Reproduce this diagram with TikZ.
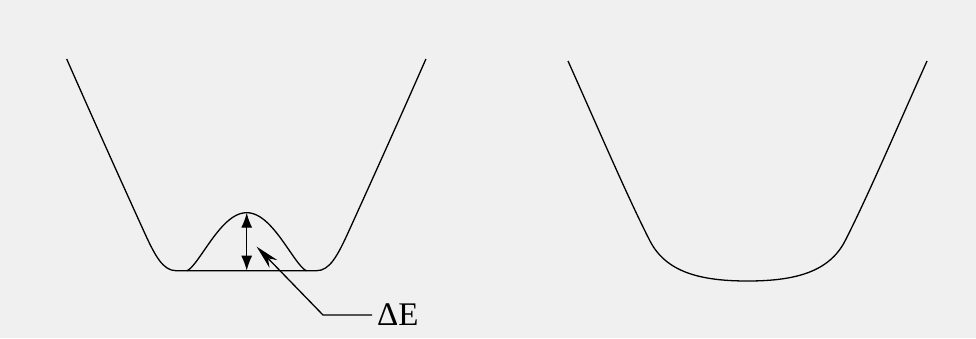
\documentclass[tikz,border=0pt]{standalone}
\usepackage{fontspec}
\setmainfont{Liberation Serif}
\usetikzlibrary{arrows.meta}
\definecolor{bgcol}{RGB}{240,240,240}
\tikzset{
  curve/.style={line width=1.3pt, black, line join=round},
  dbl/.style={line width=1.3pt, {Latex[length=15pt,width=11pt]}-{Latex[length=15pt,width=11pt]}},
  leader/.style={line width=1.3pt, -{Stealth[length=24pt,width=11pt]}},
  lbl/.style={font=\fontsize{33}{33}\selectfont, inner xsep=5pt, inner ysep=0pt, anchor=west}
}
\begin{document}
\begin{tikzpicture}[x=1pt,y=-1pt]
  \fill[bgcol] (0,0) rectangle (976,338);
  \useasboundingbox (0,0) rectangle (976,338);
  % double well
  \draw[curve] (66.7,59) .. controls (97,128) and (131,203) .. (143.3,230)
     .. controls (155,256) and (163,270.7) .. (176,270.7) -- (316.6,270.7)
     .. controls (329.6,270.7) and (337.6,256) .. (349.3,230)
     .. controls (361.6,203) and (395.6,128) .. (425.9,59);
  % barrier bump
  \draw[curve] plot[domain=-60:60, samples=81]
     ({246.7+\x}, {270.7-58*(1-(\x/60)^2)*sqrt(max(0,1-(\x/60)^2))});
  % single well
  \draw[curve] (568,61) .. controls (598,128) and (628,198) .. (650,241)
     .. controls (666,272) and (700,281) .. (747.5,281)
     .. controls (795,281) and (829,272) .. (845,241)
     .. controls (867,198) and (897,128) .. (927,61);
  % Delta E arrow
  \coordinate (top) at (246.7,212.7);
  \coordinate (bot) at (246.7,270.7);
  \draw[dbl] (bot) -- (top);
  % label and leader
  \node[lbl] (dE) at (372,315) {ΔE};
  \coordinate (hook) at (323,315);
  \coordinate (tip) at (256.7,246.7);
  \draw[leader] (dE.west) -- (hook) -- (tip);
\end{tikzpicture}
\end{document}
